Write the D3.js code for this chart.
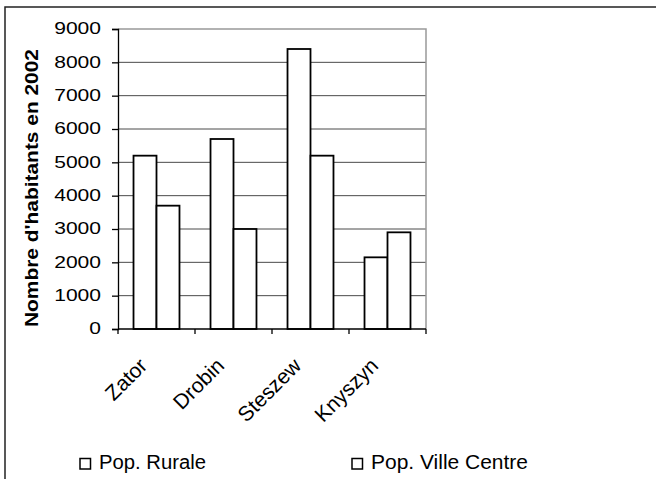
<!DOCTYPE html>
<html>
<head>
<meta charset="utf-8">
<script src="https://cdn.jsdelivr.net/npm/d3@7"></script>
<style>
  html, body { margin: 0; padding: 0; background: #fff; }
  svg { display: block; font-family: Arial, "Liberation Sans", sans-serif; }
</style>
</head>
<body>
<svg id="chart" width="656" height="479"></svg>
<script>
const categories = ["Zator", "Drobin", "Steszew", "Knyszyn"];
const seriesNames = ["Pop. Rurale", "Pop. Ville Centre"];
const rurale = [5200, 5700, 8400, 2150];
const villeCentre = [3700, 3000, 5200, 2900];
const yTicks = [0, 1000, 2000, 3000, 4000, 5000, 6000, 7000, 8000, 9000];
const yLabel = "Nombre d'habitants en 2002";

const svg = d3.select("#chart");
const plot = { left: 118, right: 426, top: 29, bottom: 329 };

// outer frame (top + left visible)
svg.append("path")
  .attr("d", "M5,479 L5,7 L656,7")
  .attr("fill", "none").attr("stroke", "#222").attr("stroke-width", 1.5);

const x = d3.scaleBand().domain(categories).range([plot.left, plot.right]);
const xs = d3.scaleBand().domain([0, 1]).range([0, x.bandwidth()]).paddingOuter(0.675).paddingInner(0);
const y = d3.scaleLinear().domain([0, 9000]).range([plot.bottom, plot.top]);

// gridlines
svg.append("g").selectAll("line")
  .data(yTicks.filter(d => d > 0 && d < 9000))
  .join("line")
  .attr("x1", plot.left).attr("x2", plot.right)
  .attr("y1", d => y(d)).attr("y2", d => y(d))
  .attr("stroke", "#4a4a4a").attr("stroke-width", 1);

// plot area border (top + right)
svg.append("path")
  .attr("d", `M${plot.left},${y(9000)} L${plot.right},${y(9000)} L${plot.right},${plot.bottom}`)
  .attr("fill", "none").attr("stroke", "#999").attr("stroke-width", 1.5);

// bars
const data = categories.map((c, i) => ({ c, vals: [rurale[i], villeCentre[i]] }));
const g = svg.append("g");
data.forEach(d => {
  d.vals.forEach((v, k) => {
    g.append("rect")
      .attr("x", x(d.c) + xs(k))
      .attr("y", y(v))
      .attr("width", xs.bandwidth())
      .attr("height", y(0) - y(v))
      .attr("fill", "#fff")
      .attr("stroke", "#000")
      .attr("stroke-width", 1.8);
  });
});

// y axis
const yAxis = svg.append("g").attr("transform", `translate(${plot.left},0)`)
  .call(d3.axisLeft(y).tickValues(yTicks).tickSize(6).tickPadding(11).tickFormat(d3.format("d")));
yAxis.select(".domain").attr("stroke", "#000").attr("stroke-width", 1.3);
yAxis.selectAll(".tick line").attr("stroke", "#000").attr("stroke-width", 1.3);
yAxis.selectAll(".tick text")
  .attr("font-family", "Arial, 'Liberation Sans', sans-serif")
  .attr("font-size", 17).attr("fill", "#000")
  .attr("dy", "0.28em")
  .attr("textLength", d => 11.7 * String(d).length).attr("lengthAdjust", "spacingAndGlyphs");

// x axis
const xAxis = svg.append("g").attr("transform", `translate(0,${plot.bottom})`);
xAxis.append("line").attr("x1", plot.left).attr("x2", plot.right)
  .attr("y1", 0).attr("y2", 0).attr("stroke", "#000").attr("stroke-width", 1.5);
const bounds = categories.map(c => x(c)).concat([plot.right]);
xAxis.selectAll("line.tk").data(bounds).join("line").attr("class", "tk")
  .attr("x1", d => d).attr("x2", d => d).attr("y1", 0).attr("y2", 5)
  .attr("stroke", "#000").attr("stroke-width", 1.3);
xAxis.selectAll("text").data(categories).join("text")
  .attr("transform", d => `translate(${x(d) + x.bandwidth() / 2 - 8},${38}) rotate(-45)`)
  .attr("text-anchor", "end")
  .attr("font-size", 21).attr("fill", "#000")
  .text(d => d);

// y label
svg.append("text")
  .attr("transform", `translate(38,188) rotate(-90)`)
  .attr("text-anchor", "middle")
  .attr("font-size", 18).attr("font-weight", "bold").attr("fill", "#000")
  .attr("textLength", 278).attr("lengthAdjust", "spacingAndGlyphs")
  .text(yLabel);

// legend
const legendX = [80, 352];
const legendTextLen = [107, 157];
seriesNames.forEach((name, i) => {
  svg.append("rect")
    .attr("x", legendX[i]).attr("y", 458.5)
    .attr("width", 10.5).attr("height", 10.5)
    .attr("fill", "#fff").attr("stroke", "#000").attr("stroke-width", 1.5);
  svg.append("text")
    .attr("x", legendX[i] + 19).attr("y", 469)
    .attr("font-size", 19.5).attr("fill", "#000")
    .attr("textLength", legendTextLen[i]).attr("lengthAdjust", "spacingAndGlyphs")
    .text(name);
});
</script>
</body>
</html>
